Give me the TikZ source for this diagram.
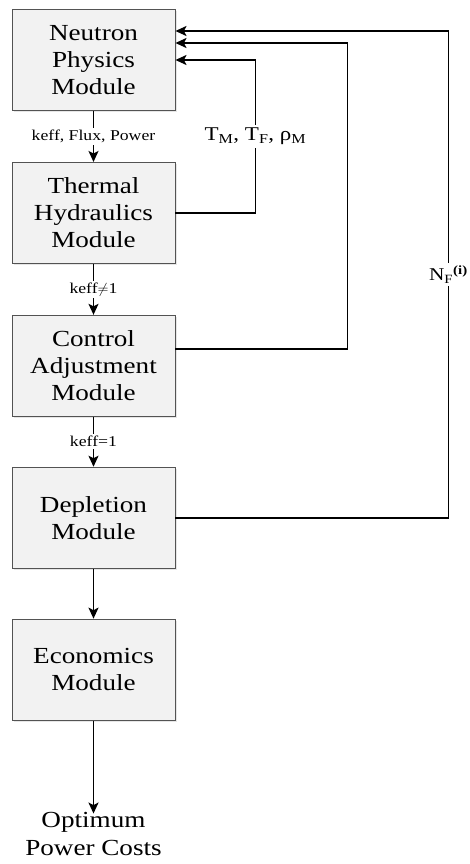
\documentclass[tikz,border=0pt]{standalone}
\usepackage{fontspec}
\setmainfont{Liberation Serif}[FakeStretch=1.18]
\usetikzlibrary{positioning, arrows.meta, shadows}

\tikzset{
  module/.style={draw=gray!65!black, line width=0.9pt, fill=gray!10,
    drop shadow={opacity=0.2, shadow xshift=1.5pt, shadow yshift=-1.5pt},
    minimum width=163pt, minimum height=101pt, align=center,
    font=\fontsize{23}{27}\selectfont},
  flow/.style={line width=1.6pt, -{Stealth[length=11pt, width=10pt, inset=2.5pt]}},
  tag/.style={fill=white, inner sep=2pt, font=\fontsize{15}{18}\selectfont},
  fbtag/.style={fill=white, inner sep=3pt, font=\fontsize{19.5}{23}\selectfont}
}

\begin{document}
\begin{tikzpicture}[node distance=51pt]

        \useasboundingbox (0,0) rectangle (470pt,-864pt);

        \node[module] (neutron) at (93.5pt,-60pt) {Neutron\\Physics\\Module};
        \node[module] (thermal) [below = of neutron] {Thermal\\Hydraulics\\Module};
        \node[module] (control) [below = of thermal] {Control\\Adjustment\\Module};
        \node[module] (depletion) [below = 50pt of control] {Depletion\\Module};
        \node[module] (economics) [below = 50pt of depletion] {Economics\\Module};
        \node[align=center, font=\fontsize{23}{28}\selectfont] (cost) [below = 88pt of economics] {Optimum\\Power Costs};

        \draw[flow] (neutron) -- node[tag] {keff, Flux, Power} (thermal);
        \draw[flow] (thermal) -- node[tag] {keff$\neq$1} (control);
        \draw[flow] (control) -- node[tag] {keff=1} (depletion);
        \draw[flow] (depletion) -- (economics);
        \draw[flow] (economics) -- ([yshift=-5pt]cost.north);

        % feedback loops
        \draw[flow] (thermal.east) -- ++(80pt,0) |- node[fbtag, pos=0.25] {T\textsubscript{M}, T\textsubscript{F}, ρ\textsubscript{M}} (neutron.east);
        \draw[flow] ([yshift=17pt]control.east) -- ++(172pt,0) |- ([yshift=17pt]neutron.east);
        \draw[flow] (depletion.east) -- ++(273pt,0) |- node[fbtag, pos=0.25, font=\fontsize{18}{22}\selectfont] {N\textsubscript{F}\textsuperscript{\textbf{(i)}}} ([yshift=29pt]neutron.east);

    \end{tikzpicture}
\end{document}
